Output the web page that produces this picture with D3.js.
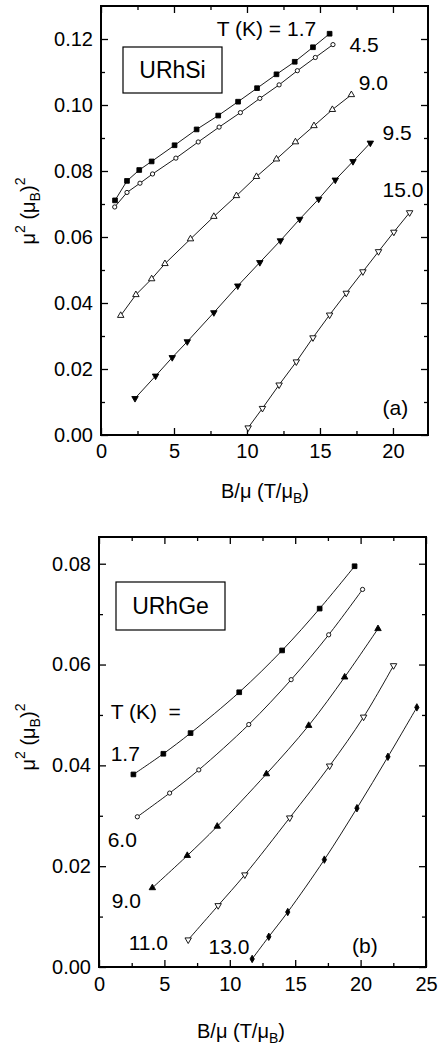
<!DOCTYPE html>
<html>
<head>
<meta charset="utf-8">
<script src="https://cdn.jsdelivr.net/npm/d3@7"></script>
<style>
  body { margin: 0; background: #fff; }
  svg { display: block; }
  text { font-family: "Liberation Sans", Arial, Helvetica, sans-serif; fill: #000; }
</style>
</head>
<body>
<div id="chart"></div>
<script>
// ---- data ----
// (a) URhSi : [B/mu (T/muB), mu^2 (muB^2)]
var si_17 = [[0.96,0.0711],[1.78,0.0770],[2.62,0.0803],[3.47,0.0829],[5.04,0.0878],[6.55,0.0926],[8.03,0.0968],[9.39,0.1010],[10.69,0.1051],[12.02,0.1093],[13.27,0.1131],[14.52,0.1175],[15.66,0.1216]];
var si_45 = [[0.94,0.0691],[1.78,0.0735],[2.67,0.0763],[3.53,0.0791],[5.13,0.0839],[6.66,0.0888],[8.09,0.0933],[9.55,0.0977],[10.88,0.1020],[12.20,0.1061],[13.45,0.1104],[14.68,0.1144],[15.89,0.1183]];
var si_90 = [[1.35,0.0362],[2.39,0.0425],[3.47,0.0473],[4.38,0.0519],[6.13,0.0594],[7.73,0.0662],[9.28,0.0725],[10.65,0.0783],[12.02,0.0836],[13.32,0.0888],[14.59,0.0937],[15.85,0.0986],[17.15,0.1031]];
var si_95 = [[2.33,0.0111],[3.74,0.0179],[4.88,0.0235],[5.91,0.0283],[7.73,0.0371],[9.37,0.0452],[10.88,0.0523],[12.29,0.0589],[13.61,0.0654],[14.91,0.0715],[16.05,0.0773],[17.26,0.0829],[18.45,0.0885]];
var si_150 = [[10.08,0.0022],[11.06,0.0081],[12.20,0.0152],[13.38,0.0222],[14.52,0.0295],[15.66,0.0364],[16.80,0.0430],[17.94,0.0495],[19.01,0.0556],[20.06,0.0615],[21.14,0.0674]];

// (b) URhGe
var ge_17 = [[2.63,0.0382],[4.92,0.0423],[7.00,0.0464],[10.72,0.0545],[14.00,0.0628],[16.87,0.0711],[19.54,0.0795]];
var ge_60 = [[2.93,0.0298],[5.40,0.0345],[7.63,0.0391],[11.45,0.0481],[14.69,0.0570],[17.56,0.0659],[20.15,0.0749]];
var ge_90 = [[4.08,0.0157],[6.75,0.0221],[9.04,0.0279],[12.80,0.0383],[16.03,0.0479],[18.78,0.0575],[21.33,0.0671]];
var ge_110 = [[6.82,0.0054],[9.11,0.0122],[11.15,0.0183],[14.58,0.0296],[17.63,0.0399],[20.23,0.0496],[22.52,0.0598]];
var ge_130 = [[11.71,0.0016],[12.98,0.0060],[14.43,0.0109],[17.23,0.0213],[19.72,0.0315],[22.09,0.0417],[24.30,0.0515]];

var siTicksX = [0, 5, 10, 15, 20];
var siTicksY = [0, 0.02, 0.04, 0.06, 0.08, 0.10, 0.12];
var geTicksX = [0, 5, 10, 15, 20, 25];
var geTicksY = [0, 0.02, 0.04, 0.06, 0.08];

// ---- setup ----
var w = 438, h = 1050;
var svg = d3.select("#chart").append("svg")
    .attr("width", w).attr("height", h);

var sym = {
  square:  {type: d3.symbolSquare,   size: 22, fill: "#000", rot: 0},
  circle:  {type: d3.symbolCircle,   size: 14, fill: "#fff", rot: 0},
  triUp:   {type: d3.symbolTriangle, size: 18, fill: "#fff", rot: 0},
  triUpF:  {type: d3.symbolTriangle, size: 18, fill: "#000", rot: 0},
  triDn:   {type: d3.symbolTriangle, size: 18, fill: "#fff", rot: 180},
  triDnF:  {type: d3.symbolTriangle, size: 18, fill: "#000", rot: 180},
  diamond: {type: d3.symbolDiamond,  size: 16, fill: "#000", rot: 0}
};

function drawPanel(p) {
  var g = svg.append("g");
  var x = d3.scaleLinear().domain(p.xDomain).range([p.left, p.right]);
  var y = d3.scaleLinear().domain(p.yDomain).range([p.bottom, p.top]);
  var xMinor = d3.range(2.5, p.xDomain[1], 5);
  var yMinor = d3.range(0.01, p.yDomain[1], 0.02);

  function ax(axis, scale, vals, size, labels, pad) {
    return axis(scale).tickValues(vals).tickSize(-size).tickPadding(pad || 8)
      .tickFormat(labels ? labels : "");
  }
  var fx = d3.format("d"), fy = d3.format(".2f");

  // bottom / left with labels
  g.append("g").attr("transform", "translate(0," + p.bottom + ")")
    .call(ax(d3.axisBottom, x, p.ticksX, 7, fx, p.xPad));
  g.append("g").attr("transform", "translate(0," + p.bottom + ")")
    .call(ax(d3.axisBottom, x, xMinor, 4));
  g.append("g").attr("transform", "translate(" + p.left + ",0)")
    .call(ax(d3.axisLeft, y, p.ticksY, 7, fy, 8));
  g.append("g").attr("transform", "translate(" + p.left + ",0)")
    .call(ax(d3.axisLeft, y, yMinor, 4));
  // top / right mirrored ticks
  g.append("g").attr("transform", "translate(0," + p.top + ")")
    .call(ax(d3.axisTop, x, p.ticksX, 7));
  g.append("g").attr("transform", "translate(0," + p.top + ")")
    .call(ax(d3.axisTop, x, xMinor, 4));
  g.append("g").attr("transform", "translate(" + p.right + ",0)")
    .call(ax(d3.axisRight, y, p.ticksY, 7));
  g.append("g").attr("transform", "translate(" + p.right + ",0)")
    .call(ax(d3.axisRight, y, yMinor, 4));

  g.selectAll(".domain").remove();
  g.selectAll(".tick line").attr("stroke", "#000").attr("stroke-width", 1.3);
  g.selectAll(".tick text").attr("font-size", 20)
    .attr("font-family", "'Liberation Sans', Arial, sans-serif");

  g.append("rect")
    .attr("x", p.left).attr("y", p.top)
    .attr("width", p.right - p.left).attr("height", p.bottom - p.top)
    .attr("fill", "none").attr("stroke", "#000").attr("stroke-width", 2);

  var line = d3.line().x(function(d){ return x(d[0]); }).y(function(d){ return y(d[1]); })
    .curve(p.curve);

  p.series.forEach(function(s) {
    g.append("path").datum(s.data)
      .attr("d", line)
      .attr("fill", "none").attr("stroke", "#000").attr("stroke-width", 0.9);
    var m = sym[s.marker];
    g.selectAll(null).data(s.data).enter().append("path")
      .attr("d", d3.symbol().type(m.type).size(m.size))
      .attr("transform", function(d){
        return "translate(" + x(d[0]) + "," + y(d[1]) + ") rotate(" + m.rot + ")";
      })
      .attr("fill", m.fill).attr("stroke", "#000").attr("stroke-width", 0.9);
  });

  // annotations
  p.notes.forEach(function(n) {
    g.append("text").attr("x", x(n[1])).attr("y", y(n[2]))
      .attr("font-size", 21).attr("xml:space", "preserve").text(n[0]);
  });

  // sample name box
  g.append("rect").attr("x", p.box[0]).attr("y", p.box[1])
    .attr("width", p.box[2]).attr("height", p.box[3])
    .attr("fill", "#fff").attr("stroke", "#000").attr("stroke-width", 1.2);
  g.append("text").attr("x", p.box[0] + p.box[2] / 2).attr("y", p.box[1] + p.box[3] / 2 + 8)
    .attr("text-anchor", "middle").attr("font-size", 23).text(p.name);

  // x title
  var xt = g.append("text").attr("x", p.xTitle[0]).attr("y", p.xTitle[1])
    .attr("text-anchor", "middle").attr("font-size", 20);
  xt.append("tspan").text("B/\u03bc (T/\u03bc");
  xt.append("tspan").attr("font-size", 14).attr("dy", 5).text("B");
  xt.append("tspan").attr("dy", -5).text(")");

  // y title
  var yt = g.append("text")
    .attr("transform", "translate(" + p.yTitle[0] + "," + p.yTitle[1] + ") rotate(-90)")
    .attr("text-anchor", "middle").attr("font-size", 20);
  yt.append("tspan").text("\u03bc");
  yt.append("tspan").attr("font-size", 14).attr("dy", -10).text("2");
  yt.append("tspan").attr("dy", 10).text(" (\u03bc");
  yt.append("tspan").attr("font-size", 14).attr("dy", 5).text("B");
  yt.append("tspan").attr("dy", -5).text(")");
  yt.append("tspan").attr("font-size", 14).attr("dy", -10).text("2");
}

drawPanel({
  name: "URhSi",
  left: 101, right: 428, top: 6, bottom: 435,
  xDomain: [0, 22.4], yDomain: [0, 0.13],
  ticksX: siTicksX, ticksY: siTicksY, xPad: 9,
  curve: d3.curveLinear,
  series: [
    {data: si_17, marker: "square"},
    {data: si_45, marker: "circle"},
    {data: si_90, marker: "triUp"},
    {data: si_95, marker: "triDnF"},
    {data: si_150, marker: "triDn"}
  ],
  notes: [["T (K) = 1.7", 7.93, 0.1208], ["4.5", 17.03, 0.1162], ["9.0", 17.65, 0.1046],
          ["9.5", 19.29, 0.0895], ["15.0", 19.29, 0.0722], ["(a)", 19.29, 0.0061]],
  box: [123, 47, 99, 46],
  xTitle: [265, 498], yTitle: [35, 211]
});

drawPanel({
  name: "URhGe",
  left: 99, right: 426, top: 537, bottom: 967,
  xDomain: [0, 25], yDomain: [0, 0.0853],
  ticksX: geTicksX, ticksY: geTicksY, xPad: 10,
  curve: d3.curveCatmullRom,
  series: [
    {data: ge_17, marker: "square"},
    {data: ge_60, marker: "circle"},
    {data: ge_90, marker: "triUpF"},
    {data: ge_110, marker: "triDn"},
    {data: ge_130, marker: "diamond"}
  ],
  notes: [["T (K)  =", 0.89, 0.0491], ["1.7", 0.89, 0.0408], ["6.0", 0.66, 0.0239],
          ["9.0", 0.97, 0.0118], ["11.0", 2.27, 0.0033], ["13.0", 8.37, 0.0026], ["(b)", 19.34, 0.0028]],
  box: [116, 582, 109, 48],
  xTitle: [241, 1038], yTitle: [35, 737]
});
</script>
</body>
</html>
